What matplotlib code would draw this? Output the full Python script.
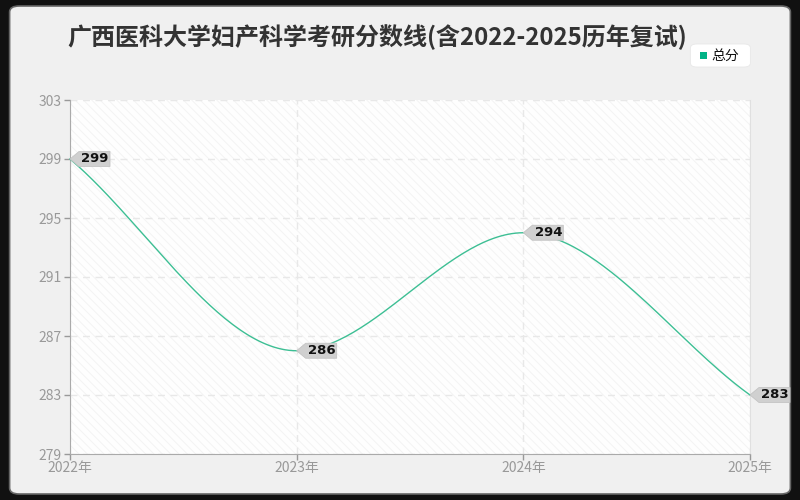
import numpy as np
import matplotlib
matplotlib.use("Agg")
import matplotlib.pyplot as plt
from matplotlib.patches import FancyBboxPatch, Rectangle, Polygon
from matplotlib.transforms import Affine2D, ScaledTranslation

plt.rcParams['font.family'] = ['Noto Sans CJK SC', 'DejaVu Sans']
plt.rcParams['hatch.linewidth'] = 0.6

years = [2022, 2023, 2024, 2025]
year_labels = ['2022年', '2023年', '2024年', '2025年']
scores = [299, 286, 294, 283]
yticks = [279, 283, 287, 291, 295, 299, 303]
title = '广西医科大学妇产科学考研分数线(含2022-2025历年复试)'
series_name = '总分'

line_color = '#3dbf94'


def monotone_cubic(x, y, n=60):
    x = np.asarray(x, float)
    y = np.asarray(y, float)
    h = np.diff(x)
    d = np.diff(y) / h
    m = np.zeros_like(y)
    m[0] = d[0]
    m[-1] = d[-1]
    for i in range(1, len(y) - 1):
        if d[i - 1] * d[i] <= 0:
            m[i] = 0
        else:
            w1 = 2 * h[i] + h[i - 1]
            w2 = h[i] + 2 * h[i - 1]
            m[i] = (w1 + w2) / (w1 / d[i - 1] + w2 / d[i])
    xs, ys = [], []
    for i in range(len(x) - 1):
        t = np.linspace(0, 1, n, endpoint=(i == len(x) - 2))
        hh = h[i]
        h00 = 2 * t**3 - 3 * t**2 + 1
        h10 = t**3 - 2 * t**2 + t
        h01 = -2 * t**3 + 3 * t**2
        h11 = t**3 - t**2
        xs.append(x[i] + t * hh)
        ys.append(h00 * y[i] + h10 * hh * m[i] + h01 * y[i + 1] + h11 * hh * m[i + 1])
    return np.concatenate(xs), np.concatenate(ys)


fig = plt.figure(figsize=(8, 5), dpi=100)
fig.patch.set_facecolor('#111111')
bg = FancyBboxPatch((0.012, 0.012), 0.976, 0.976, boxstyle='round,pad=0,rounding_size=0.012',
                    transform=fig.transFigure, facecolor='#f0f0f0', edgecolor='#666666',
                    linewidth=1.2, zorder=-10)
fig.patches.append(bg)

ax = fig.add_axes([0.0875, 0.092, 0.85, 0.708])
ax.set_facecolor('white')
ax.add_patch(Rectangle((0, 0), 1, 1, transform=ax.transAxes, facecolor='#fefefe',
                       edgecolor='#f2f2f2', hatch='\\\\\\\\', linewidth=0, zorder=0))

ax.set_xlim(2022, 2025)
ax.set_ylim(279, 303)
ax.set_xticks(years)
ax.set_xticklabels(year_labels)
ax.set_yticks(yticks)
ax.tick_params(axis='both', colors='#999999', labelsize=10, length=4, width=1)
ax.tick_params(axis='x', pad=1)
ax.tick_params(axis='y', pad=2)
for lab in ax.get_xticklabels() + ax.get_yticklabels():
    lab.set_color('#999999')
ax.grid(True, linestyle=(0, (5, 4)), color='#e8e8e8', linewidth=1)
ax.set_axisbelow(True)
ax.spines['top'].set_visible(False)
ax.spines['right'].set_color('#e0e0e0')
ax.spines['left'].set_color('#aaaaaa')
ax.spines['bottom'].set_color('#aaaaaa')

xs, ys = monotone_cubic(years, scores)
ax.plot(xs, ys, color=line_color, linewidth=1, zorder=3, clip_on=False)

for x, y in zip(years, scores):
    tr = Affine2D() + ScaledTranslation(x, y, ax.transData)
    poly = Polygon([(0, 0), (9, -7.5), (40, -7.5), (40, 7.5), (9, 7.5)], closed=True,
                   transform=tr, facecolor='#d0d0d0', edgecolor='#c4c4c4', linewidth=0.6,
                   zorder=5, clip_on=False)
    ax.add_patch(poly)
    ax.text(0, 0, str(y), transform=Affine2D().translate(25, 0) + ScaledTranslation(x, y, ax.transData),
            ha='center', va='center', fontsize=9.5, fontweight='bold', color='#111111',
            zorder=6, clip_on=False, family=['DejaVu Sans'])

fig.text(0.472, 0.926, title, ha='center', va='center', fontsize=17.3,
         fontweight='bold', color='#333333')

leg_bg = FancyBboxPatch((0.863, 0.866), 0.075, 0.046, boxstyle='round,pad=0,rounding_size=0.008',
                        transform=fig.transFigure, facecolor='white', edgecolor='#e8e8e8',
                        linewidth=0.6)
fig.patches.append(leg_bg)
fig.patches.append(Rectangle((0.8755, 0.882), 0.008, 0.013, transform=fig.transFigure,
                             facecolor='#00b386', edgecolor='none'))
fig.text(0.889, 0.889, series_name, ha='left', va='center', fontsize=10, color='#111111')

fig.savefig('out.png', dpi=100, facecolor=fig.get_facecolor())
